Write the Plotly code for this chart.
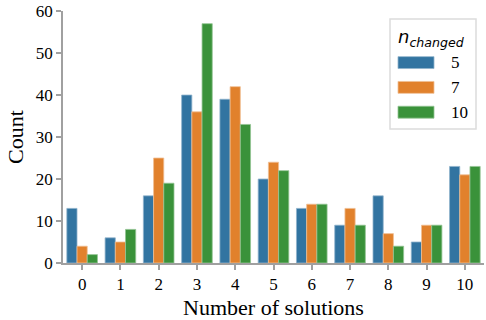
import plotly.graph_objects as go

W, H = 486, 320
L, R, T, B = 63, 2, 9, 57

solutions = [str(i) for i in range(11)]
n_changed = ["5", "7", "10"]
count_5 = [13, 6, 16, 40, 39, 20, 13, 9, 16, 5, 23]
count_7 = [4, 5, 25, 36, 42, 24, 14, 13, 7, 9, 21]
count_10 = [2, 8, 19, 57, 33, 22, 14, 9, 4, 9, 23]
y_ticks = [0, 10, 20, 30, 40, 50, 60]

COLORS = ["#3274a1", "#e1812c", "#3a923a"]
EDGES = ["#8fb3cc", "#f0bf94", "#93c493"]
AXIS = "#a0a0a0"
SERIF = "Liberation Serif, Times New Roman, serif"
SANS = "DejaVu Sans, sans-serif"


def px(x):
    return (x - L) / (W - L - R)


def py(y):
    return 1 - (y - T) / (H - T - B)


fig = go.Figure()
for name, vals, col, edge in zip(n_changed, [count_5, count_7, count_10], COLORS, EDGES):
    fig.add_trace(go.Bar(
        x=solutions, y=vals, name=name,
        marker=dict(color=col, line=dict(color=edge, width=0.8)),
        showlegend=False,
    ))

fig.update_xaxes(
    type="category", range=[-0.5, 10.5],
    showline=True, linecolor=AXIS, linewidth=1.5,
    ticks="outside", ticklen=5, tickwidth=1.5, tickcolor=AXIS,
    tickfont=dict(family=SERIF, size=17, color="black"),
    title=dict(text="Number of solutions", standoff=6,
               font=dict(family=SERIF, size=22, color="black")),
    showgrid=False, zeroline=False,
)
fig.update_yaxes(
    range=[0, 60.02], tickvals=y_ticks,
    showline=True, linecolor=AXIS, linewidth=1.5,
    ticks="outside", ticklen=5, tickwidth=1.5, tickcolor=AXIS,
    tickfont=dict(family=SERIF, size=17, color="black"),
    title=dict(text="Count", standoff=6,
               font=dict(family=SERIF, size=22, color="black")),
    showgrid=False, zeroline=False,
)

# hand-drawn legend (seaborn-style wide patches)
shapes = [dict(type="rect", xref="paper", yref="paper",
               x0=px(390), x1=px(476), y0=py(128), y1=py(17),
               line=dict(color="#dcdcdc", width=1.5), fillcolor="white", layer="above")]
annotations = [dict(text="<i>n</i><sub><i>changed</i></sub>", xref="paper", yref="paper",
                    x=px(396), y=py(36), xanchor="left", yanchor="middle", showarrow=False,
                    font=dict(family=SANS, size=18, color="black"))]
for i, (name, col, edge) in enumerate(zip(n_changed, COLORS, EDGES)):
    yc = 61 + 25 * i
    shapes.append(dict(type="rect", xref="paper", yref="paper",
                       x0=px(398), x1=px(434), y0=py(yc + 6), y1=py(yc - 6),
                       line=dict(color=edge, width=0.8), fillcolor=col, layer="above"))
    annotations.append(dict(text=name, xref="paper", yref="paper",
                            x=px(449), y=py(yc), xanchor="left", yanchor="middle",
                            showarrow=False, font=dict(family=SERIF, size=17, color="black")))

fig.update_layout(
    width=W, height=H,
    margin=dict(l=L, r=R, t=T, b=B),
    barmode="group", bargap=0.2, bargroupgap=0,
    plot_bgcolor="white", paper_bgcolor="white",
    shapes=shapes, annotations=annotations,
    showlegend=False,
)

fig.write_html("out.html", config={"displayModeBar": False},
               post_script="document.body.style.margin='0';")
